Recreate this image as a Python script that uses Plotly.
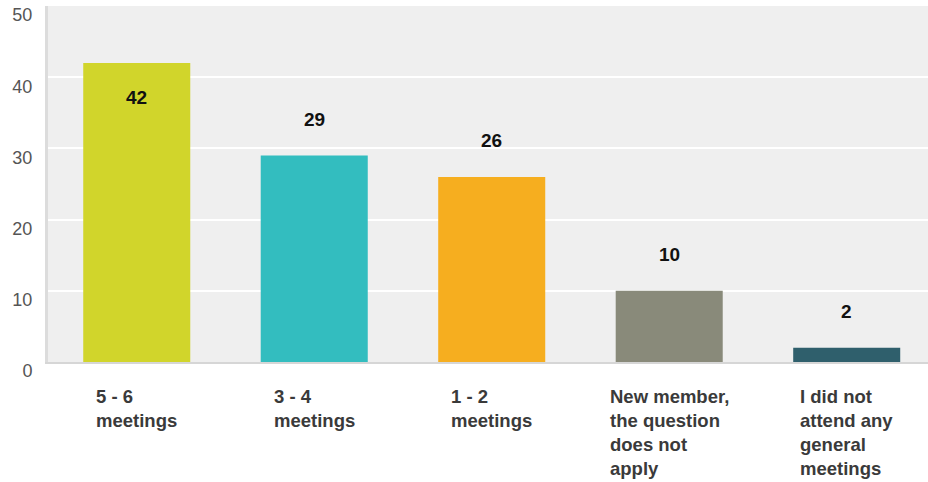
import plotly.graph_objects as go

# survey answers and counts
categories = ["5 - 6<br>meetings", "3 - 4<br>meetings", "1 - 2<br>meetings",
              "New member,<br>the question<br>does not<br>apply",
              "I did not<br>attend any<br>general<br>meetings"]
counts = [42, 29, 26, 10, 2]
bar_colors = ["#d1d52b", "#33bdbf", "#f6ae1f", "#898a7a", "#2f5f6c"]
y_ticks = [0, 10, 20, 30, 40, 50]

x_pos = list(range(len(categories)))

fig = go.Figure()

fig.add_trace(go.Bar(
    x=x_pos,
    y=counts,
    width=0.603,
    marker=dict(color=bar_colors, line=dict(width=0)),
    hoverinfo="skip",
))

# value labels: above the bar, or inside when too close to the top
for xi, v in zip(x_pos, counts):
    inside = v > 0.8 * y_ticks[-1]
    fig.add_annotation(
        x=xi, y=v, text=f"<b>{v}</b>", showarrow=False,
        yshift=-35 if inside else 36,
        font=dict(size=19, color="#111111", family="Liberation Sans, Arial"),
        xanchor="center", yanchor="middle",
    )

# category labels under the axis, centered block with left-aligned lines
for xi, lab in zip(x_pos, categories):
    fig.add_annotation(
        x=xi, y=0, yref="paper", text=f"<b>{lab}</b>", showarrow=False,
        xanchor="center", yanchor="top", align="left", yshift=-22,
        font=dict(size=18.5, color="#3a3a3a", family="Liberation Sans, Arial"),
    )

fig.update_layout(
    width=928, height=482,
    margin=dict(l=48, r=0, t=6, b=120),
    plot_bgcolor="#efefef",
    paper_bgcolor="white",
    showlegend=False,
    bargap=0.4,
    xaxis=dict(
        range=[-0.5, 4.458], showticklabels=False, showgrid=False,
        zeroline=False, showline=True, linecolor="#d6d6d6", linewidth=2,
        fixedrange=True,
    ),
    yaxis=dict(
        range=[0, 50], tickvals=y_ticks, showgrid=True, gridcolor="white",
        gridwidth=2, zeroline=False, showline=True, linecolor="#dcdcdc",
        linewidth=3, ticks="", ticklabelstandoff=9, ticklabelshift=9,
        tickfont=dict(size=18, color="#555555", family="Liberation Sans, Arial"),
        fixedrange=True,
    ),
)

fig.write_html("out.html", config={"displayModeBar": False},
               post_script="document.body.style.margin='0';")
